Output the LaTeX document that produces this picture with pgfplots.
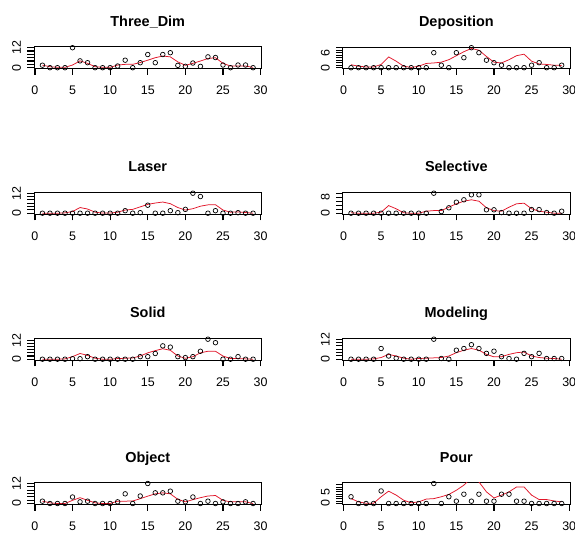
\documentclass[border=0pt]{standalone}
\usepackage{pgfplots}
\pgfplotsset{compat=1.18}
\usepackage{fontspec}
\setmainfont{Liberation Sans}
\definecolor{rred}{RGB}{225,20,40}
\pgfplotsset{panel/.style={
  scale only axis, width=227.5bp, height=21.6bp,
  anchor=south west,
  xmin=-0.12, xmax=30.12,
  xtick={0,5,...,30},
  axis line style={line width=0.8bp},
  /pgf/number format/assume math mode=true,
  tick align=outside,
  xtick pos=lower, ytick pos=left,
  major tick length=6.5bp,
  every tick/.append style={draw=black, line width=1.2bp},
  every major tick/.append style={draw=black, line width=1.2bp},
  xticklabel style={font=\fontsize{12.5}{12.5}\selectfont, anchor=base, yshift=-20bp},
  yticklabel style={font=\fontsize{12.5}{12.5}\selectfont, xshift=-6.5bp, rotate=90, anchor=base},
  title style={font=\bfseries\fontsize{14.5}{14.5}\selectfont, at={(0.5,1)}, anchor=base, yshift=14.5bp},
}}
\pgfplotsset{pts/.style={only marks, mark=o, mark size=2.3bp, mark options={line width=0.7bp, black}},
  fit/.style={rred, line width=0.75bp, no marks, sharp plot}}
\begin{document}
\begin{tikzpicture}
\path[use as bounding box] (0bp,0bp) rectangle (575bp,533bp);
% ---------- Three_Dim
\begin{axis}[panel, at={(34.0bp,464.5bp)}, title={Three\_Dim}, ymin=-0.48, ymax=12.48,
  ytick={0,2,...,12}, yticklabels={0,,,,,,12}]
\addplot[pts] coordinates {(1,1.5)(2,0)(3,0)(4,0)(5,12)(6,4.1)(7,3)(8,0)(9,0)(10,0)(11,1)(12,4.5)(13,0)(14,3)(15,7.9)(16,3)(17,7.9)(18,9)(19,1.4)(20,0.8)(21,2.8)(22,0.8)(23,6.5)(24,6.1)(25,1.6)(26,0)(27,1.6)(28,1.6)(29,0)};
\addplot[fit] coordinates {(1,1.5)(2,0.6)(3,0.2)(4,0.2)(5,1.6)(6,4.1)(7,2.6)(8,0.6)(9,0.2)(10,0.2)(11,1.6)(12,2)(13,2)(14,3.1)(15,4.5)(16,6)(17,7)(18,6.5)(19,3.5)(20,1.4)(21,2.6)(22,4)(23,5.5)(24,6)(25,2.6)(26,1)(27,1)(28,1)(29,0.2)};
\end{axis}
% ---------- Deposition
\begin{axis}[panel, at={(342.6bp,464.5bp)}, title={Deposition}, ymin=-0.32, ymax=8.32,
  ytick={0,1,...,8}, yticklabels={0,,,,,,6,,}]
\addplot[pts] coordinates {(1,0)(2,0)(3,0)(4,0)(5,0)(6,0)(7,0)(8,0)(9,0)(10,0)(11,0)(12,6)(13,1)(14,0)(15,6)(16,4)(17,8)(18,6)(19,3)(20,2)(21,1)(22,0)(23,0)(24,0)(25,1)(26,2)(27,0)(28,0)(29,1)};
\addplot[fit] coordinates {(1,1.2)(2,0.6)(3,0.3)(4,0.3)(5,1.3)(6,4.3)(7,2.6)(8,0.6)(9,0.1)(10,0.6)(11,1.7)(12,1.9)(13,2.2)(14,3.2)(15,4.8)(16,6.4)(17,7.7)(18,7)(19,4.5)(20,2.2)(21,1.9)(22,3.2)(23,4.8)(24,5.4)(25,2.6)(26,1.5)(27,1.3)(28,1)(29,0.9)};
\end{axis}
% ---------- Laser
\begin{axis}[panel, at={(34.0bp,319bp)}, title={Laser}, ymin=-0.48, ymax=12.48,
  ytick={0,2,...,12}, yticklabels={0,,,,,,12}]
\addplot[pts] coordinates {(1,0)(2,0)(3,0)(4,0)(5,0)(6,0)(7,0)(8,0)(9,0)(10,0)(11,0)(12,1.5)(13,0)(14,0.3)(15,4.8)(16,0)(17,0)(18,1.5)(19,0.3)(20,2.3)(21,12)(22,10)(23,0)(24,1.5)(25,0)(26,0)(27,0.3)(28,0)(29,0)};
\addplot[fit] coordinates {(1,0)(2,0)(3,0)(4,0.2)(5,1)(6,3.4)(7,2.5)(8,0.6)(9,0.1)(10,0.1)(11,0.6)(12,1.9)(13,2.3)(14,3.8)(15,5.3)(16,6.1)(17,6.7)(18,5.7)(19,3.4)(20,1.9)(21,2.7)(22,4.2)(23,5)(24,5.1)(25,1.9)(26,0.6)(27,0.8)(28,0.4)(29,0)};
\end{axis}
% ---------- Selective
\begin{axis}[panel, at={(342.6bp,319bp)}, title={Selective}, ymin=-0.4, ymax=10.4,
  ytick={0,2,...,10}, yticklabels={0,,,,8,}]
\addplot[pts] coordinates {(1,0)(2,0)(3,0)(4,0)(5,0)(6,0)(7,0)(8,0)(9,0)(10,0)(11,0)(12,10)(13,0.8)(14,2.7)(15,5.5)(16,6.7)(17,9.2)(18,9.2)(19,1.7)(20,1.7)(21,0.3)(22,0)(23,0)(24,0)(25,1.8)(26,1.8)(27,0.3)(28,0)(29,1)};
\addplot[fit] coordinates {(1,0.2)(2,0)(3,0)(4,0)(5,0.5)(6,3.8)(7,2.2)(8,0.2)(9,0)(10,0)(11,1)(12,1.3)(13,1.3)(14,3)(15,4.7)(16,6)(17,6.7)(18,6)(19,2.7)(20,1.3)(21,1)(22,3)(23,4.7)(24,5)(25,2.2)(26,1)(27,0.5)(28,0)(29,0)};
\end{axis}
% ---------- Solid
\begin{axis}[panel, at={(34.0bp,173bp)}, title={Solid}, ymin=-0.5, ymax=13.1,
  ytick={0,2,...,12}, yticklabels={0,,,,,,12}]
\addplot[pts] coordinates {(1,0)(2,0)(3,0)(4,0)(5,0.3)(6,0.3)(7,1.6)(8,0)(9,0)(10,0)(11,0)(12,0)(13,0)(14,1.6)(15,1.6)(16,3.6)(17,8.4)(18,7.6)(19,1.6)(20,1)(21,1.6)(22,5)(23,12.6)(24,10.4)(25,0)(26,0)(27,1.6)(28,0)(29,0)};
\addplot[fit] coordinates {(1,0)(2,0)(3,0)(4,0.2)(5,1.6)(6,3.6)(7,2.4)(8,0.6)(9,0)(10,0)(11,0.4)(12,0.6)(13,0.8)(14,2)(15,4)(16,5.4)(17,6.6)(18,5.6)(19,2)(20,0.6)(21,1.6)(22,4)(23,5)(24,5)(25,2)(26,0.4)(27,0.4)(28,0.2)(29,0)};
\end{axis}
% ---------- Modeling
\begin{axis}[panel, at={(342.6bp,173bp)}, title={Modeling}, ymin=-0.48, ymax=12.48,
  ytick={0,2,...,12}, yticklabels={0,,,,,,12}]
\addplot[pts] coordinates {(1,0)(2,0)(3,0)(4,0)(5,6.4)(6,1.9)(7,0.6)(8,0)(9,0)(10,0)(11,0)(12,12)(13,0.4)(14,0)(15,5.4)(16,6.4)(17,8.7)(18,6.4)(19,3.5)(20,4.8)(21,1.5)(22,0.4)(23,0)(24,3.5)(25,1.5)(26,3.5)(27,0.4)(28,0.4)(29,0.4)};
\addplot[fit] coordinates {(1,0)(2,0)(3,0)(4,0.2)(5,1)(6,2.9)(7,1.9)(8,0.6)(9,0)(10,0.4)(11,0.6)(12,0.8)(13,1)(14,1.9)(15,3.9)(16,5.4)(17,6.4)(18,5.4)(19,2.9)(20,1.4)(21,1.5)(22,2.9)(23,3.9)(24,4.3)(25,1.9)(26,1)(27,0.6)(28,0.4)(29,0)};
\end{axis}
% ---------- Object
\begin{axis}[panel, at={(34.0bp,28.7bp)}, title={Object}, ymin=-0.48, ymax=12.48,
  ytick={0,2,...,12}, yticklabels={0,,,,,,12}]
\addplot[pts] coordinates {(1,1.4)(2,0)(3,0)(4,0)(5,3.9)(6,1)(7,1.4)(8,0)(9,0)(10,0)(11,1)(12,5.8)(13,0)(14,4.5)(15,12)(16,6.4)(17,6.4)(18,7.4)(19,1.4)(20,1)(21,3.9)(22,0)(23,1.4)(24,0)(25,1)(26,0)(27,0)(28,1)(29,0)};
\addplot[fit] coordinates {(1,1.4)(2,0.4)(3,0)(4,0)(5,1.9)(6,3.5)(7,1.9)(8,0.4)(9,0)(10,0)(11,1.4)(12,1.4)(13,1.5)(14,2.9)(15,4.4)(16,5.8)(17,6.4)(18,5.8)(19,2.5)(20,1)(21,2.3)(22,3.5)(23,4.5)(24,4.8)(25,1.9)(26,1)(27,1)(28,1)(29,0)};
\end{axis}
% ---------- Pour
\begin{axis}[panel, at={(342.6bp,28.7bp)}, title={Pour}, ymin=-0.344, ymax=8.944,
  ytick={0,1,...,8}, yticklabels={0,,,,,5,,,}]
\addplot[pts] coordinates {(1,2.9)(2,0)(3,0)(4,0)(5,5.4)(6,0)(7,0)(8,0)(9,0)(10,0)(11,0)(12,8.6)(13,0)(14,2.9)(15,1)(16,4)(17,1)(18,4)(19,1)(20,1)(21,4)(22,4)(23,1)(24,1)(25,0)(26,0)(27,0)(28,0)(29,0)};
\addplot[fit] coordinates {(1,2.1)(2,0.7)(3,0.1)(4,0.1)(5,2.9)(6,5.3)(7,3.6)(8,1.4)(9,0.3)(10,0.7)(11,1.9)(12,2.1)(13,2.9)(14,3.9)(15,5.7)(16,7.9)(17,11)(18,9.3)(19,5)(20,2.4)(21,3.6)(22,5)(23,7.1)(24,7.1)(25,3.6)(26,1.7)(27,1.7)(28,1.1)(29,0.7)};
\end{axis}
\end{tikzpicture}
\end{document}
